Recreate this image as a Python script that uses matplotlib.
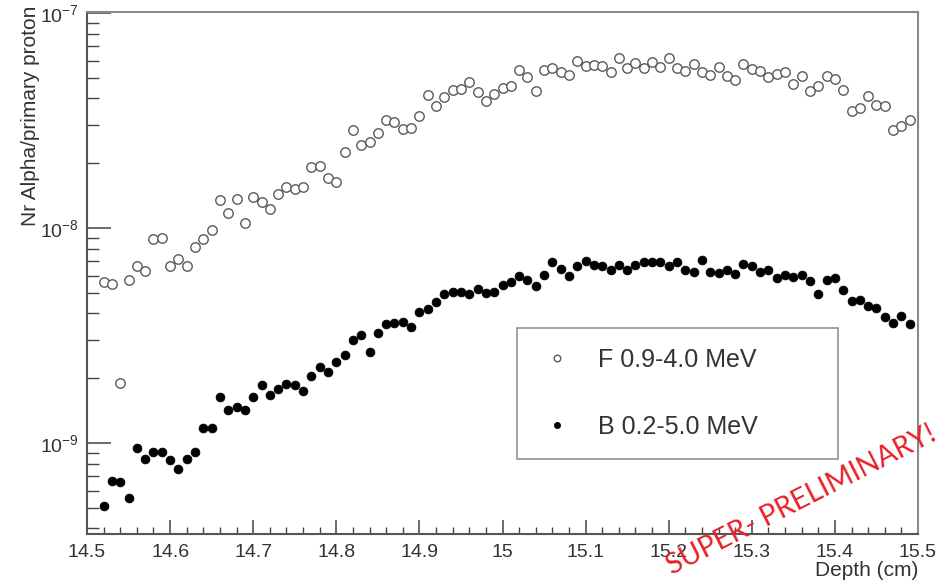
import numpy as np
import matplotlib
matplotlib.use('Agg')
import matplotlib.pyplot as plt
from matplotlib.ticker import MultipleLocator, LogLocator, NullFormatter

plt.rcParams['font.family'] = ['Liberation Sans', 'DejaVu Sans']

# bin centres (cm), 0.01 cm bins
depth = np.round(np.arange(14.52, 15.495, 0.01), 2)

# F 0.9-4.0 MeV, in units of 1e-9
f_vals = [5.58, 5.47, 1.89, 5.70, 6.62, 6.30, 8.85, 8.95, 6.68, 7.20,
          6.62, 8.16, 8.88, 9.82, 13.5, 11.7, 13.6, 10.5, 13.9, 13.2,
          12.2, 14.4, 15.5, 15.2, 15.5, 19.2, 19.4, 17.0, 16.3, 22.6,
          28.4, 24.3, 25.1, 27.5, 31.8, 31.1, 29.0, 29.3, 33.3, 41.6,
          36.8, 40.7, 43.6, 44.1, 47.8, 42.9, 38.8, 42.0, 44.6, 45.6,
          54.1, 50.4, 43.4, 54.5, 55.2, 52.9, 51.3, 59.8, 56.9, 57.5,
          56.9, 52.9, 61.8, 55.7, 58.3, 55.7, 58.9, 56.1, 61.8, 55.5,
          53.7, 57.7, 52.9, 51.7, 56.1, 51.1, 48.6, 58.1, 54.9, 53.7,
          50.1, 52.0, 53.2, 46.9, 50.9, 43.2, 45.9, 50.7, 49.3, 44.0,
          35.0, 36.0, 40.9, 37.3, 37.1, 28.6, 29.9, 31.9]

# B 0.2-5.0 MeV, in units of 1e-9
b_vals = [0.507, 0.668, 0.659, 0.557, 0.948, 0.846, 0.912, 0.912, 0.830, 0.759,
          0.846, 0.908, 1.17, 1.17, 1.63, 1.43, 1.47, 1.43, 1.63, 1.85,
          1.67, 1.78, 1.88, 1.85, 1.75, 2.05, 2.25, 2.13, 2.38, 2.56,
          3.02, 3.19, 2.64, 3.25, 3.58, 3.61, 3.64, 3.45, 4.05, 4.20,
          4.54, 4.93, 5.01, 5.01, 4.93, 5.20, 4.99, 5.01, 5.41, 5.58,
          6.00, 5.75, 5.39, 6.04, 6.95, 6.45, 5.96, 6.63, 7.00, 6.75,
          6.63, 6.35, 6.70, 6.40, 6.72, 6.95, 6.95, 6.95, 6.65, 6.95,
          6.35, 6.22, 7.10, 6.22, 6.17, 6.35, 6.13, 6.77, 6.63, 6.22,
          6.40, 5.85, 6.02, 5.91, 6.02, 5.65, 4.95, 5.75, 5.87, 5.16,
          4.56, 4.64, 4.35, 4.23, 3.85, 3.61, 3.91, 3.59]

f_alpha = np.array(f_vals) * 1e-9
b_alpha = np.array(b_vals) * 1e-9

fig = plt.figure(figsize=(9.46, 5.82), dpi=100)
ax = fig.add_axes([87 / 946, 48 / 582, 831 / 946, 522 / 582])

ax.plot(depth, f_alpha, linestyle='none', marker='o', markersize=6.8,
        markerfacecolor='white', markeredgecolor='#5a5a5a', markeredgewidth=1.0,
        label='F 0.9-4.0 MeV')
ax.plot(depth, b_alpha, linestyle='none', marker='o', markersize=6.4,
        markerfacecolor='black', markeredgecolor='black', markeredgewidth=0.5,
        label='B 0.2-5.0 MeV')

ax.set_yscale('log')
ax.set_xlim(14.5, 15.5)
ax.set_ylim(3.77e-10, 1.01e-7)

ax.xaxis.set_minor_locator(MultipleLocator(0.02))
ax.set_xticks(np.round(np.arange(14.5, 15.51, 0.1), 1))
ax.set_xticklabels(['14.5', '14.6', '14.7', '14.8', '14.9', '15',
                    '15.1', '15.2', '15.3', '15.4', '15.5'])
ax.yaxis.set_major_locator(LogLocator(base=10))
ax.yaxis.set_minor_locator(LogLocator(base=10, subs=np.arange(2, 10)))
ax.yaxis.set_minor_formatter(NullFormatter())

ax.tick_params(axis='both', which='both', direction='in', colors='#444444',
               labelcolor='#333333', labelsize=14, top=False, right=False)
ax.tick_params(axis='x', which='major', length=10, width=1.1, pad=7)
ax.tick_params(axis='x', which='minor', length=5, width=1.0)
ax.tick_params(axis='y', which='major', length=17, width=1.1, pad=6)
ax.tick_params(axis='y', which='minor', length=8.6, width=1.0)

for side in ['left', 'bottom']:
    ax.spines[side].set_color('#555555')
    ax.spines[side].set_linewidth(1.5)
for side in ['top', 'right']:
    ax.spines[side].set_color('#8a8a8a')
    ax.spines[side].set_linewidth(1.5)

ax.set_ylabel('Nr Alpha/primary proton', fontsize=15, color='#333333', loc='top')
ax.yaxis.set_label_coords(-0.056, 1.012)
ax.set_xlabel('Depth (cm)', fontsize=15, color='#333333', loc='right')
ax.xaxis.set_label_coords(1.0, -0.052)

# legend box: x 517-838 px, top at 328 px
leg_x0 = (517 - 87) / 831
leg_top = 1 - (328 - 12) / 522
leg = ax.legend(loc='upper left', bbox_to_anchor=(leg_x0, leg_top - 0.1, 321 / 831, 0.1),
                mode='expand', fontsize=18, frameon=True, fancybox=False,
                markerscale=0.7, handlelength=1.6, handletextpad=0.84,
                borderpad=0.8, labelspacing=1.7, borderaxespad=0)
leg.get_frame().set_edgecolor('#777777')
leg.get_frame().set_linewidth(1.2)
for t in leg.get_texts():
    t.set_color('#333333')

fig.text(801 / 946, 1 - 500 / 582, 'SUPER- PRELIMINARY!', color='#e8202a',
         fontsize=20.5, family=['Lato', 'DejaVu Sans'], rotation=27,
         ha='center', va='center', rotation_mode='anchor')

fig.savefig('out.png', dpi=100)
